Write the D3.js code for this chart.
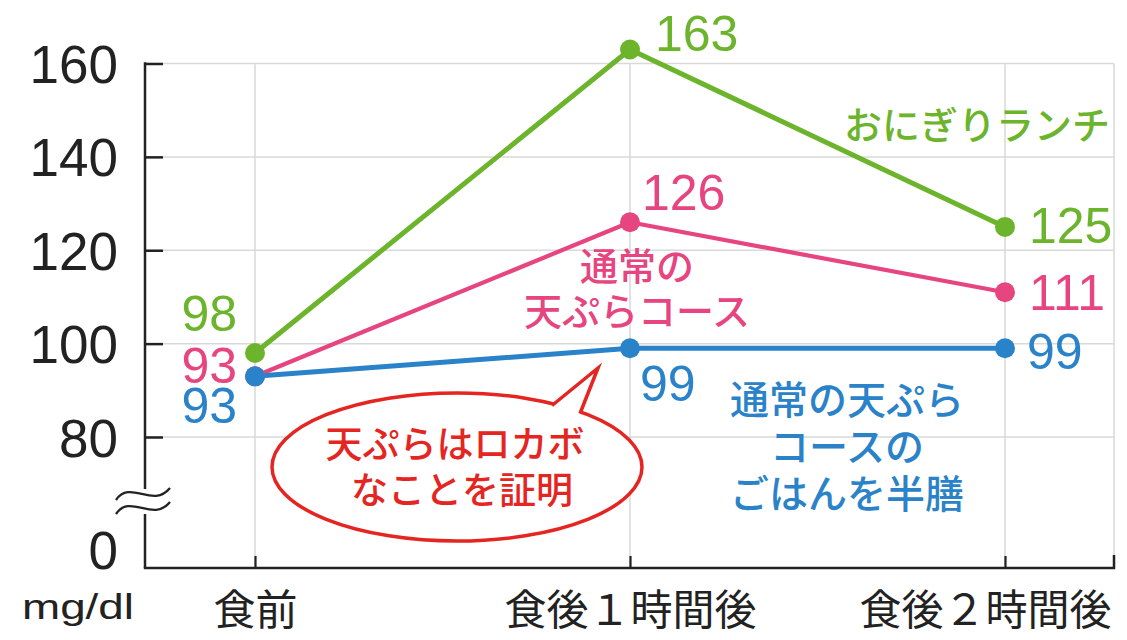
<!DOCTYPE html>
<html lang="ja">
<head>
<meta charset="utf-8">
<script src="https://cdn.jsdelivr.net/npm/d3@7"></script>
<style>
  html, body { margin: 0; padding: 0; background: #fff; }
  svg { display: block; }
  .num { font-family: "Liberation Sans", Arial, "DejaVu Sans", sans-serif; }
  .jp { font-family: "Noto Sans CJK JP", "Noto Sans", sans-serif; }
</style>
</head>
<body>
<svg id="chart" width="1127" height="640"></svg>
<script>
// Blood glucose (mg/dl) before and after each lunch
const categories = ["食前", "食後１時間後", "食後２時間後"];
const onigiriLunch = [98, 163, 125];
const tempuraCourse = [93, 126, 111];
const tempuraHalfRice = [93, 99, 99];
const yTickValues = [160, 140, 120, 100, 80];
const unitLabel = "mg/dl";
const zeroLabel = "0";

const colors = {
  green: "#6cb42c",
  pink: "#e6457f",
  blue: "#2a82c9",
  red: "#e52521",
  grid: "#d9d9d9",
  axis: "#222"
};

const svg = d3.select("#chart");
const plotLeft = 145, plotRight = 1114, plotTop = 63.5, baseline = 568;

const x = d3.scalePoint().domain(categories).range([255, 1005]);
const y = d3.scaleLinear().domain([80, 160]).range([437, plotTop]);

// grid
const grid = svg.append("g");
grid.selectAll("line.h").data(yTickValues).join("line")
  .attr("x1", plotLeft).attr("x2", plotRight)
  .attr("y1", d => y(d)).attr("y2", d => y(d))
  .attr("stroke", colors.grid).attr("stroke-width", 1.5);
grid.selectAll("line.v").data(categories).join("line")
  .attr("x1", d => x(d)).attr("x2", d => x(d))
  .attr("y1", plotTop).attr("y2", baseline)
  .attr("stroke", colors.grid).attr("stroke-width", 1.5);
grid.append("line")
  .attr("x1", plotRight).attr("x2", plotRight).attr("y1", plotTop).attr("y2", baseline)
  .attr("stroke", colors.grid).attr("stroke-width", 1.5);

// y axis (ticks point inward)
const yAxis = d3.axisLeft(y).tickValues(yTickValues)
  .tickSizeInner(-18).tickSizeOuter(0).tickPadding(27);
const gy = svg.append("g").attr("transform", `translate(${plotLeft},0)`).call(yAxis);
gy.select(".domain").remove();
gy.selectAll(".tick line").attr("stroke", colors.axis).attr("stroke-width", 2.5);
gy.selectAll(".tick text")
  .attr("class", "num").attr("fill", "#222")
  .attr("font-size", 53).attr("dy", "0.36em");

// y axis line with break
const breakTop = 489, breakBottom = 514;
svg.append("path")
  .attr("d", `M${plotLeft},${plotTop - 1.2}V${breakTop}M${plotLeft},${breakBottom}V${baseline}`)
  .attr("stroke", colors.axis).attr("stroke-width", 2.5).attr("fill", "none");
[494, 508].forEach(wy => {
  svg.append("path")
    .attr("d", `M116,${wy + 6} C130,${wy - 15} 153,${wy + 15} 170,${wy - 6}`)
    .attr("stroke", colors.axis).attr("stroke-width", 2.3).attr("fill", "none");
});
svg.append("text").attr("class", "num")
  .attr("x", plotLeft - 27).attr("y", baseline - 18).attr("dy", "0.36em")
  .attr("text-anchor", "end").attr("font-size", 53).attr("fill", "#222")
  .text(zeroLabel);

// x axis
const xAxis = d3.axisBottom(x).tickSizeInner(-12).tickSizeOuter(0).tickPadding(0);
const gx = svg.append("g").attr("transform", `translate(0,${baseline})`).call(xAxis);
gx.select(".domain").remove();
gx.selectAll(".tick line").attr("stroke", colors.axis).attr("stroke-width", 2.2);
gx.selectAll(".tick text")
  .attr("class", "jp").attr("fill", "#222").attr("font-size", 42)
  .attr("y", 42).attr("dy", "0.36em")
  .attr("dx", (d, i) => i === categories.length - 1 ? -20 : 0);
svg.append("path")
  .attr("d", `M${plotLeft - 1.2},${baseline}H${plotRight}V${baseline - 13}`)
  .attr("stroke", colors.axis).attr("stroke-width", 2.5).attr("fill", "none");

svg.append("text").attr("class", "num")
  .attr("x", 22).attr("y", 606).attr("dy", "0.36em")
  .attr("font-size", 35).attr("fill", "#222")
  .attr("textLength", 112).attr("lengthAdjust", "spacingAndGlyphs")
  .text(unitLabel);

// series
const series = [
  { name: "onigiri", values: onigiriLunch, color: colors.green, width: 5 },
  { name: "tempura", values: tempuraCourse, color: colors.pink, width: 4.2 },
  { name: "half", values: tempuraHalfRice, color: colors.blue, width: 5 }
];
const line = d3.line().x((d, i) => x(categories[i])).y(d => y(d));
series.forEach(s => {
  svg.append("path").attr("d", line(s.values))
    .attr("fill", "none").attr("stroke", s.color)
    .attr("stroke-width", s.width).attr("stroke-linejoin", "round");
});
series.forEach(s => {
  svg.append("g").selectAll("circle").data(s.values).join("circle")
    .attr("cx", (d, i) => x(categories[i])).attr("cy", d => y(d))
    .attr("r", 10).attr("fill", s.color);
});

// value labels: [series, index, dx, dy, anchor]
const valueLabels = [
  [0, 0, -18, -40, "end"], [0, 1, 25, -16, "start"], [0, 2, 24, -2, "start"],
  [1, 0, -18, -11, "end"], [1, 1, 12, -30, "start"], [1, 2, 24, 0, "start"],
  [2, 0, -18, 29, "end"], [2, 1, 10, 35, "start"], [2, 2, 22, 3, "start"]
];
valueLabels.forEach(([si, i, dx, dy, anchor]) => {
  const s = series[si];
  const v = s.values[i];
  svg.append("text").attr("class", "num")
    .attr("x", x(categories[i]) + dx).attr("y", y(v) + dy).attr("dy", "0.36em")
    .attr("text-anchor", anchor).attr("font-size", 50).attr("fill", s.color)
    .text(v);
});

// series names
function multiline(lines, cx, cy0, gap, color, size, anchor) {
  const t = svg.append("text").attr("class", "jp")
    .attr("font-size", size).attr("font-weight", 500)
    .attr("fill", color).attr("text-anchor", anchor);
  lines.forEach((l, k) => {
    t.append("tspan").attr("x", cx).attr("y", cy0 + k * gap).attr("dy", "0.36em").text(l);
  });
}
multiline(["おにぎりランチ"], 1110, 125, 0, colors.green, 38, "end");
multiline(["通常の", "天ぷらコース"], 637, 266, 45, colors.pink, 38, "middle");
multiline(["通常の天ぷら", "コースの", "ごはんを半膳"], 847, 400, 47, colors.blue, 39, "middle");

// speech bubble
const bubble = svg.append("g");
bubble.append("ellipse")
  .attr("cx", 457).attr("cy", 467).attr("rx", 185).attr("ry", 74)
  .attr("fill", "#fff").attr("stroke", colors.red).attr("stroke-width", 3.5);
bubble.append("path")
  .attr("d", "M551,412 L553,404 L598,368 L580,413 L576,420 Z")
  .attr("fill", "#fff");
bubble.append("path")
  .attr("d", "M552,405.5 L598,368 L580,413.5")
  .attr("fill", "none").attr("stroke", colors.red)
  .attr("stroke-width", 3.5).attr("stroke-linejoin", "miter");
multiline(["天ぷらはロカボ"], 455, 445, 0, colors.red, 37, "middle");
multiline(["なことを証明"], 462, 491, 0, colors.red, 37, "middle");
</script>
</body>
</html>
